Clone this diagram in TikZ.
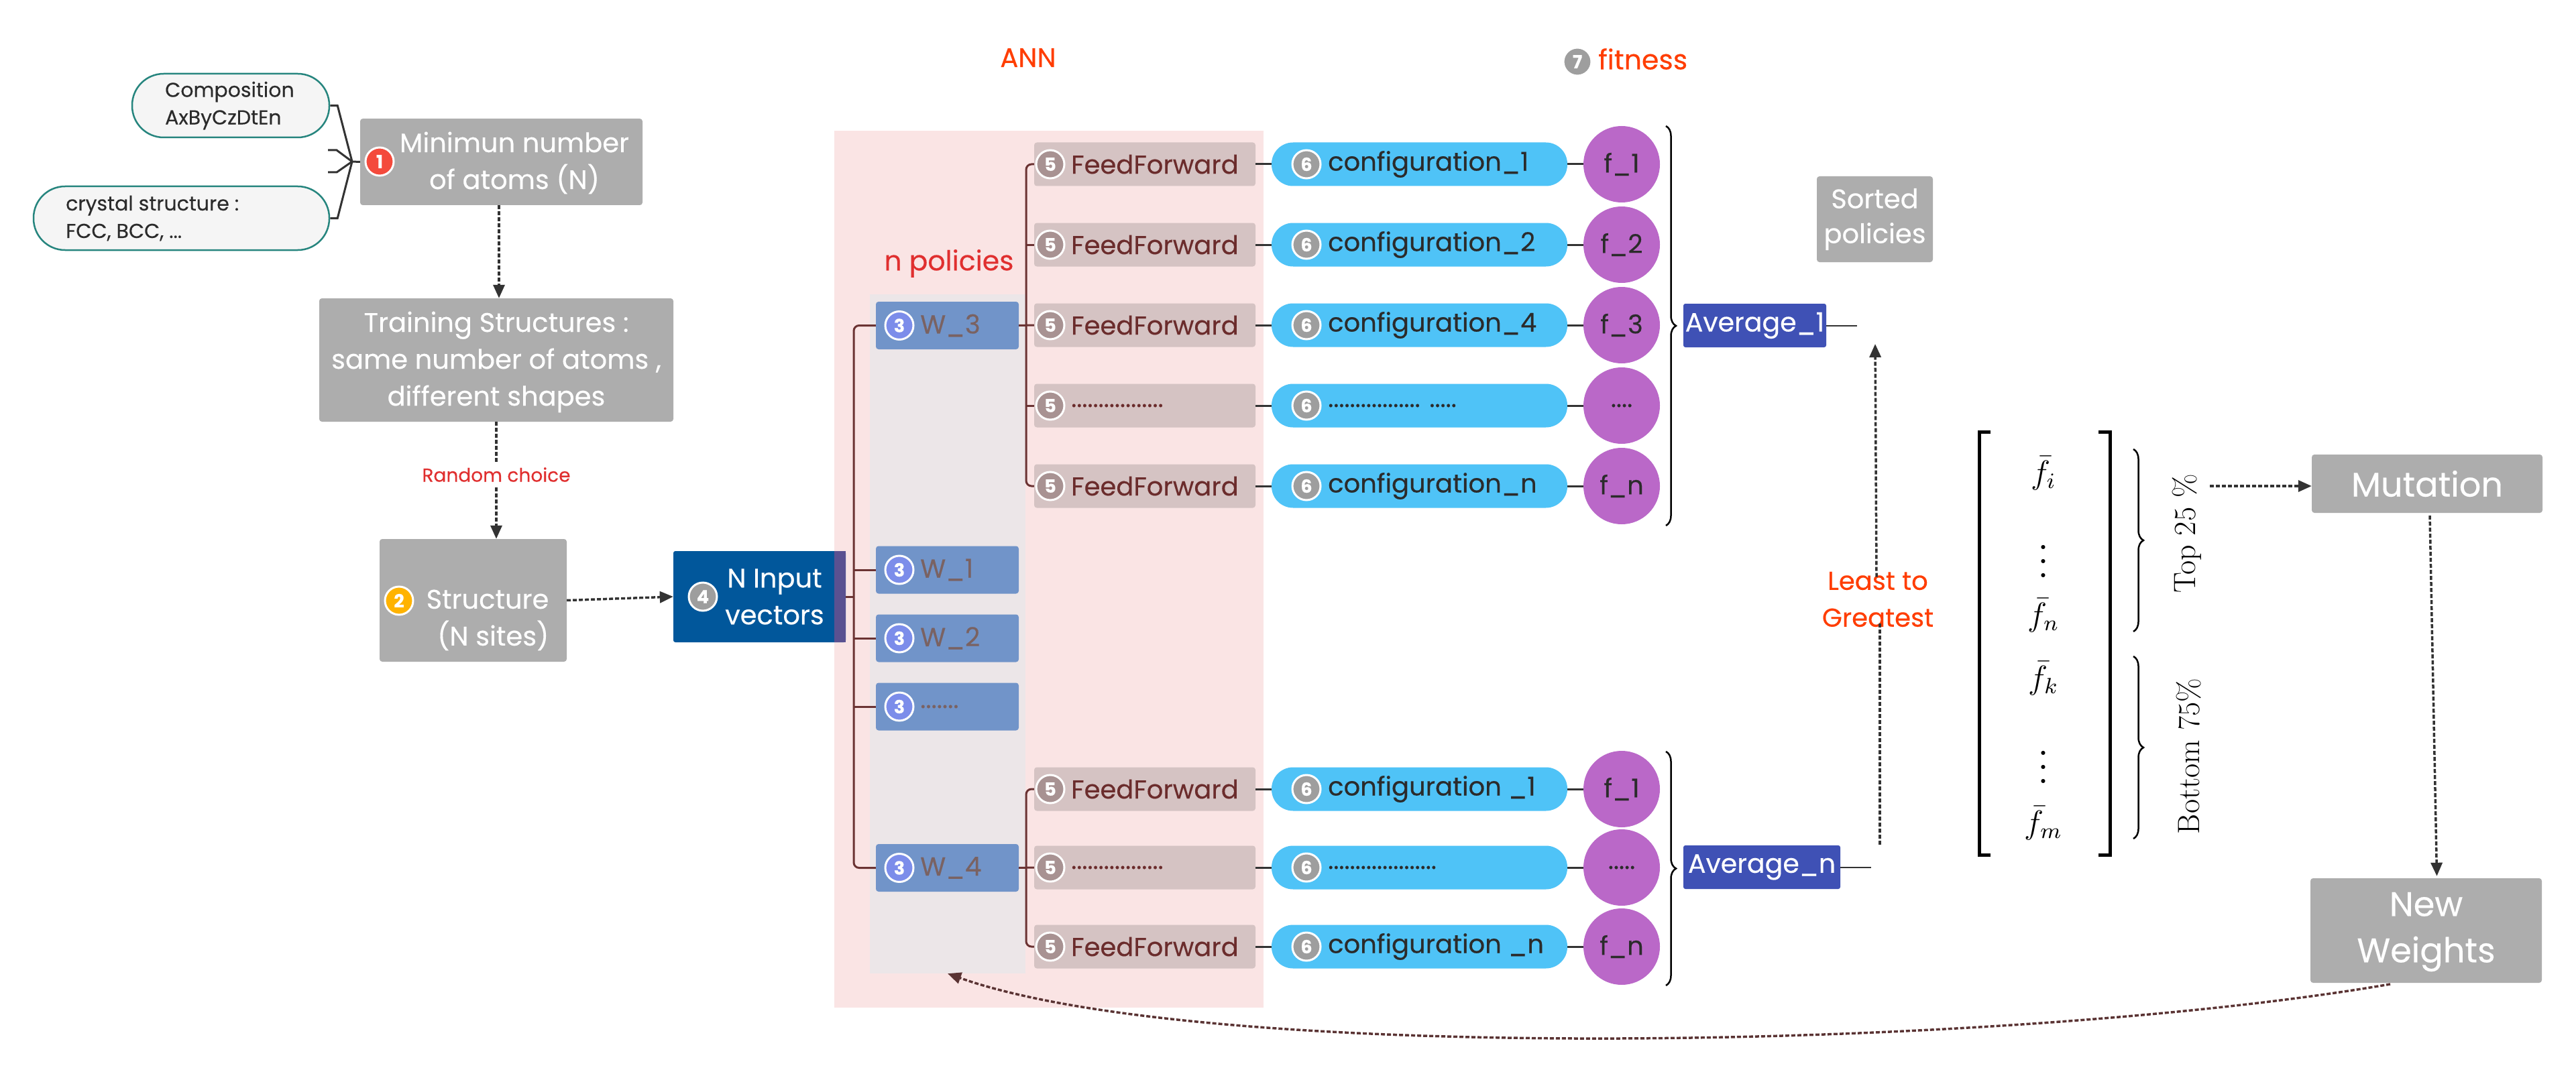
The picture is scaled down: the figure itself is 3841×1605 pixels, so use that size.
\documentclass[tikz,border=0pt]{standalone}
\usepackage{graphicx}
\usepackage{fontspec}
\newfontfamily\pop[FakeBold=0.3]{Poppins}
\usetikzlibrary{arrows.meta,decorations.pathreplacing,calc}
\definecolor{pinkbg}{HTML}{FAE4E4}
\definecolor{colgray}{HTML}{ECE6E8}
\definecolor{boxgray}{HTML}{ADADAD}
\definecolor{wblue}{HTML}{7194C9}
\definecolor{ffpink}{HTML}{D5C3C3}
\definecolor{fftxt}{HTML}{6B2C2C}
\definecolor{cfgblue}{HTML}{4FC3F7}
\definecolor{fpurple}{HTML}{BA68C8}
\definecolor{avgblue}{HTML}{3F51B5}
\definecolor{nblue}{HTML}{01579B}
\definecolor{nstrip}{HTML}{5A5191}
\definecolor{treec}{HTML}{6B3333}
\definecolor{orangered}{HTML}{FF3D00}
\definecolor{redtxt}{HTML}{E02F2F}
\definecolor{pillfill}{HTML}{F5F5F5}
\definecolor{pillline}{HTML}{26857E}
\definecolor{bone}{HTML}{F44A3C}
\definecolor{btwo}{HTML}{FFB300}
\definecolor{bthree}{HTML}{7C8DEA}
\definecolor{bfive}{HTML}{A89292}
\definecolor{bsix}{HTML}{9E9E9E}
\definecolor{wtxt}{HTML}{7A6262}
\definecolor{darktxt}{HTML}{2B2B2B}
\definecolor{arr}{HTML}{333333}
\newcommand\ffdots{.................}
\newcommand\cfgdotsA{................. .....}
\newcommand\cfgdotsB{....................}
\newcommand\fdotsA{....}
\newcommand\fdotsB{.....}
\newcommand\wdots{.......}
\newcommand\matentry[1]{\scalebox{4.1}{\fontsize{12}{12}\selectfont$#1$}}
\newcommand\matvdots{\scalebox{5.2}{\fontsize{12}{12}\selectfont$\vdots$}}
\tikzset{
  gbox/.style={fill=boxgray, rounded corners=4pt, inner sep=0pt},
  wtext/.style={font=\pop\fontsize{40}{55}\selectfont, text=white, align=center, inner sep=0pt},
  badge/.style={circle, draw=white, line width=3pt, minimum size=42pt, inner sep=0pt,
     font=\pop\bfseries\fontsize{27}{27}\selectfont, text=white},
  pill/.style={fill=pillfill, draw=pillline, line width=2.5pt, rounded corners=47pt, inner sep=0pt},
  pilltext/.style={font=\pop\fontsize{30}{41}\selectfont, text=darktxt, align=left, anchor=west, inner sep=0pt},
  wbox/.style={fill=wblue, rounded corners=4pt, minimum width=213pt, minimum height=71pt, inner sep=0pt},
  wlabel/.style={font=\pop\fontsize{39}{39}\selectfont, text=wtxt, anchor=west, inner sep=0pt},
  ffbox/.style={fill=ffpink, rounded corners=4pt, minimum width=330pt, minimum height=65pt, inner sep=0pt},
  fftext/.style={font=\pop\fontsize{38.5}{38.5}\selectfont, text=fftxt, anchor=west, inner sep=0pt},
  cfgbox/.style={fill=cfgblue, rounded corners=32pt, minimum width=441pt, minimum height=65pt, inner sep=0pt},
  cfgtext/.style={font=\pop\fontsize{38.5}{38.5}\selectfont, text=darktxt, anchor=west, inner sep=0pt},
  fcirc/.style={circle, fill=fpurple, minimum size=114pt, inner sep=0pt,
     font=\pop\fontsize{38.5}{38.5}\selectfont, text=darktxt},
  avgbox/.style={fill=avgblue, rounded corners=3pt, minimum height=65pt, inner sep=0pt,
     font=\pop\fontsize{39.5}{39.5}\selectfont, text=white},
  link/.style={draw=arr, line width=3pt},
  thin/.style={draw=arr, line width=2pt},
  tree/.style={draw=treec, line width=3pt},
  dasharr/.style={draw=arr, line width=3.5pt, dash pattern=on 6pt off 3pt, -{Triangle[length=20pt,width=17pt]}},
  dashline/.style={draw=arr, line width=3.5pt, dash pattern=on 6pt off 3pt},
  bracefig/.style={draw=black, line width=2.5pt, decorate, decoration={brace, amplitude=15pt}},
  mathent/.style={inner sep=0pt},
}
\begin{document}
\begin{tikzpicture}[x=1pt, y=-1pt]
\useasboundingbox (0,0) rectangle (3841,1605);
\fill[white] (0,0) rectangle (3841,1605);

% ANN background
\fill[pinkbg] (1244,195) rectangle (1884,1503);
\node[fill=colgray, minimum width=232pt, minimum height=1013pt, inner sep=0pt] (col) at (1413,945.5) {};

% titles
\node[font=\pop\fontsize{40}{40}\selectfont, text=orangered] (ann) at (1533,86) {ANN};
\node[badge, fill=bsix, draw=white] (b7) at (2352,92) {7};
\node[font=\pop\fontsize{41}{41}\selectfont, text=orangered, anchor=west, inner sep=0pt] (fit) at (2383,88) {fitness};
\node[font=\pop\fontsize{41}{41}\selectfont, text=redtxt] (npol) at (1415,393) {n policies};

% left inputs
\node[pill, minimum width=294pt, minimum height=95pt] (comp) at (344,157.5) {};
\node[pilltext] (compt) at (246,157.5) {Composition\\AxByCzDtEn};
\node[pill, minimum width=441pt, minimum height=95pt] (cryst) at (270.5,325.5) {};
\node[pilltext] (crystt) at (98,325.5) {crystal structure :\\FCC, BCC, ...};

\node[gbox, minimum width=421pt, minimum height=129pt] (minb) at (747.5,241.5) {};
\node[wtext] (mint) at (767,243) {Minimun number\\of atoms (N)};
\node[badge, fill=bone] (b1) at (566,241) {1};

\coordinate (jn) at (525,241);
\draw[link] (comp.east) -- ++(11,0) -- (jn);
\draw[link] (cryst.east) -- ++(11,0) -- (jn);
\coordinate (tka) at (489,224);
\coordinate (tkb) at (489,257);
\draw[link] (tka) -- ++(13,0) -- (jn);
\draw[link] (tkb) -- ++(13,0) -- (jn);
\draw[link] (jn) -- (minb.west);

\node[gbox, minimum width=528pt, minimum height=184pt] (train) at (740,537) {};
\node[wtext] (traint) at (740,540) {Training Structures :\\same number of atoms ,\\different shapes};

\coordinate (vtop) at (744,0);
\draw[dasharr] (minb.south -| vtop) -- (train.north -| vtop);

\node[font=\pop\fontsize{28}{28}\selectfont, text=redtxt, inner sep=0pt] (rand) at (740,708) {Random choice};
\node[gbox, minimum width=279pt, minimum height=183pt] (struct) at (705.5,895.5) {};
\node[wtext, align=right] (structt) at (727,925) {Structure\\(N sites)};
\node[badge, fill=btwo] (b2) at (595,896) {2};
\draw[dashline] (train.south) -- ($(rand.north)+(0,-8)$);
\draw[dasharr] ($(rand.south)+(0,8)$) -- (rand.south |- struct.north);

% N input
\node[fill=nblue, rounded corners=3pt, minimum width=257pt, minimum height=136pt, inner sep=0pt] (ninput) at (1132.5,890) {};
\fill[nstrip] (1244,822) rectangle (1261,958);
\node[wtext] (ninputt) at (1155,890) {N Input\\vectors};
\node[badge, fill=bsix] (b4) at (1048,890) {4};
\draw[dasharr] (struct.east) -- (ninput.west);

% W boxes
\foreach \n/\yy/\lab in {3/485.5/W\_3, 1/850/W\_1, 2/952/W\_2, 0/1054/\wdots, 4/1294.5/W\_4}{
  \node[wbox] (w\n) at (1412.5,\yy) {};
  \node[badge, fill=bthree] (bw\n) at (1341,\yy) {3};
  \node[wlabel] (wl\n) at (1372,\yy) {\lab};
}
\coordinate (tr) at (1273,0);
\draw[tree, rounded corners=8pt] (w3.west) -- (w3.west -| tr) -- (w4.west -| tr) -- (w4.west);
\draw[tree] (ninput.east) -- (ninput.east -| tr);
\draw[tree] (w1.west) -- (w1.west -| tr);
\draw[tree] (w2.west) -- (w2.west -| tr);
\draw[tree] (w0.west) -- (w0.west -| tr);

% rows
\foreach \i/\yy/\fft/\cft/\fct in {
  1/245/FeedForward/configuration\_1/f\_1,
  2/365/FeedForward/configuration\_2/f\_2,
  3/485/FeedForward/configuration\_4/f\_3,
  4/605/\ffdots/\cfgdotsA/\fdotsA,
  5/725/FeedForward/configuration\_n/f\_n,
  6/1177/FeedForward/configuration \_1/f\_1,
  7/1294/\ffdots/\cfgdotsB/\fdotsB,
  8/1412/FeedForward/configuration \_n/f\_n}{
  \node[ffbox] (ff\i) at (1707,\yy) {};
  \node[badge, fill=bfive] (bf\i) at (1566,\yy) {5};
  \node[fftext] (tf\i) at (1597,\yy) {\fft};
  \node[cfgbox] (cf\i) at (2116.5,\yy) {};
  \node[badge, fill=bsix] (bc\i) at (1948,\yy) {6};
  \node[cfgtext] (tc\i) at (1980,\yy) {\cft};
  \node[fcirc] (fc\i) at (2418,\yy) {\fct};
  \draw[link] (ff\i) -- (cf\i);
  \draw[link] (cf\i) -- (fc\i);
}
\coordinate (trb) at (1530,0);
\draw[tree, rounded corners=8pt] (ff1.west) -- (ff1.west -| trb) -- (ff5.west -| trb) -- (ff5.west);
\draw[tree] (ff2.west) -- (ff2.west -| trb);
\draw[tree] (ff4.west) -- (ff4.west -| trb);
\draw[tree] (w3.east) -- (ff3.west);
\draw[tree, rounded corners=8pt] (ff6.west) -- (ff6.west -| trb) -- (ff8.west -| trb) -- (ff8.west);
\draw[tree] (w4.east) -- (ff7.west);

% braces and averages
\draw[bracefig] (2484,188) -- (2484,784);
\draw[bracefig] (2484,1121) -- (2484,1470);
\node[avgbox, minimum width=213pt] (avg1) at (2616.5,485.5) {Average\_1};
\node[avgbox, minimum width=234pt] (avgn) at (2627,1293.5) {Average\_n};
\coordinate (a1end) at (2769,485.5);
\coordinate (anend) at (2790,1293.5);
\draw[thin] (avg1.east) -- (a1end);
\draw[thin] (avgn.east) -- (anend);

\node[gbox, minimum width=173pt, minimum height=128pt] (sorted) at (2795.5,327) {};
\node[wtext, font=\pop\fontsize{40}{52}\selectfont] (sortedt) at (2795.5,327) {Sorted\\policies};

% least to greatest
\node[font=\pop\fontsize{38.5}{55}\selectfont, text=orangered, align=center, inner sep=0pt] (lg) at (2800,894) {Least to\\Greatest};
\coordinate (lgbot) at (2803,1260);
\coordinate (lgtop) at (2796,513);
\draw[dashline] (lgbot) -- ($(lg.south)+(3,-8)$);
\draw[dasharr] ($(lg.north)+(-2,8)$) -- (lgtop);

% matrix
\draw[black, line width=5pt] (2968,644) -- (2951,644) -- (2951,1275) -- (2968,1275);
\draw[black, line width=5pt] (3129,644) -- (3146,644) -- (3146,1275) -- (3129,1275);
\node[mathent] (m1) at (3047,706) {\matentry{\bar{f}_i}};
\node[mathent] (m2) at (3047,822) {\matvdots};
\node[mathent] (m3) at (3047,918) {\matentry{\bar{f}_n}};
\node[mathent] (m4) at (3047,1012) {\matentry{\bar{f}_k}};
\node[mathent] (m5) at (3047,1129) {\matvdots};
\node[mathent] (m6) at (3047,1228) {\matentry{\bar{f}_m}};
\draw[bracefig] (3181,670) -- (3181,942);
\draw[bracefig] (3181,979) -- (3181,1251);
\node[rotate=90, inner sep=0pt, font=\fontsize{46}{46}\selectfont] (top) at (3261,796) {Top 25 \%};
\node[rotate=90, inner sep=0pt, font=\fontsize{46}{46}\selectfont] (bot) at (3263,1128) {Bottom 75\%};

\node[gbox, minimum width=344pt, minimum height=87pt] (mut) at (3619,721.5) {};
\node[wtext, font=\pop\fontsize{51}{51}\selectfont] (mutt) at (3619,721.5) {Mutation};
\coordinate (topend) at (3295,725);
\draw[dasharr] (topend) -- (mut.west |- topend);

\node[gbox, minimum width=345pt, minimum height=156pt] (nw) at (3617.5,1388) {};
\node[wtext, font=\pop\fontsize{51}{69}\selectfont] (nwt) at (3617.5,1390) {New\\Weights};
\draw[dasharr] ($(mut.south)+(4,4)$) -- ($(nw.north)+(16,-3)$);

\coordinate (cstart) at (3564,1468);
\draw[dasharr, draw=treec!70!arr] (cstart) .. controls (3000,1565) and (1800,1590) .. (col.south);
\end{tikzpicture}
\end{document}
